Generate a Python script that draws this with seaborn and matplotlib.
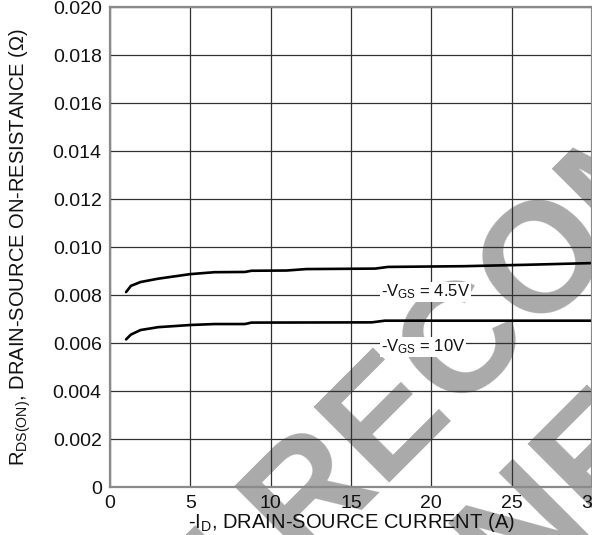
import matplotlib
matplotlib.use("Agg")
import matplotlib.pyplot as plt
import seaborn as sns
import pandas as pd

# ---- data ----
id_45 = [1.0, 1.3, 1.9, 3.0, 5.0, 6.5, 8.4, 8.8, 11.0, 12.2, 16.5, 17.3, 22.0, 26.0, 30.0]
r_45 = [0.00812, 0.00838, 0.00854, 0.00868, 0.00887, 0.00895, 0.00896, 0.00901,
        0.00902, 0.00908, 0.00910, 0.00917, 0.00920, 0.00926, 0.00933]
id_10 = [1.0, 1.3, 1.9, 3.0, 5.0, 6.5, 8.4, 8.8, 16.3, 17.1, 30.0]
r_10 = [0.00615, 0.00635, 0.00654, 0.00666, 0.00675, 0.00679, 0.00679, 0.00685,
        0.00686, 0.00693, 0.00693]
series_names = ["-VGS = 4.5V", "-VGS = 10V"]
x_ticks = [0, 5, 10, 15, 20, 25, 30]
y_ticks = [0, 0.002, 0.004, 0.006, 0.008, 0.010, 0.012, 0.014, 0.016, 0.018, 0.020]
y_tick_labels = ["0", "0.002", "0.004", "0.006", "0.008", "0.010",
                 "0.012", "0.014", "0.016", "0.018", "0.020"]

df = pd.concat([
    pd.DataFrame({"I": id_45, "R": r_45, "VGS": series_names[0]}),
    pd.DataFrame({"I": id_10, "R": r_10, "VGS": series_names[1]}),
])

sns.set_theme(style="white")
plt.rcParams["font.family"] = ["Liberation Sans", "DejaVu Sans"]
plt.rcParams["mathtext.fontset"] = "custom"
plt.rcParams["mathtext.rm"] = "Liberation Sans"
plt.rcParams["mathtext.it"] = "Liberation Sans"
plt.rcParams["mathtext.default"] = "regular"

fig = plt.figure(figsize=(5.92, 5.35), dpi=100)
ax = fig.add_axes([110 / 592, 48 / 535, 482 / 592, 480 / 535])

# watermark (below everything)
wm_color = "#aaaaaa"
wm_kw = dict(transform=fig.transFigure, rotation=45, rotation_mode="anchor",
             ha="center", va="baseline", fontsize=112, fontweight="bold",
             color=wm_color, zorder=0.1, clip_on=False)
ax.text(615 / 592, 1 - 258 / 535, "NOT RECOMMENDED", **wm_kw)
ax.text(740 / 592, 1 - 383 / 535, "FOR NEW DESIGN", **wm_kw)

sns.lineplot(data=df, x="I", y="R", hue="VGS", palette=["black", "black"],
             estimator=None, sort=False, linewidth=1.9, legend=False, ax=ax)

ax.set_xlim(0, 30)
ax.set_ylim(0, 0.020)
ax.set_xticks(x_ticks)
ax.set_yticks(y_ticks, labels=y_tick_labels)
ax.grid(True, color="#303030", linewidth=0.9)
for s in ax.spines.values():
    s.set_color("#8a8a8a")
    s.set_linewidth(1.6)
ax.tick_params(length=0, pad=6, labelsize=14, labelcolor="#111111")

ax.set_xlabel("-I$_{D}$, DRAIN-SOURCE CURRENT (A)", fontsize=14.5, color="#111111", labelpad=-1)
ax.set_ylabel("R$_{DS(ON)}$, DRAIN-SOURCE ON-RESISTANCE (Ω)", fontsize=14.5, color="#111111")
ax.yaxis.set_label_coords(-0.16, 0.5)

bbox = dict(facecolor="white", edgecolor="none", pad=0.5)
ax.text(16.85, 0.00793, "-V$_{GS}$ = 4.5V", fontsize=12, color="#111111",
        ha="left", va="baseline", bbox=bbox, zorder=3)
ax.text(16.85, 0.00564, "-V$_{GS}$ = 10V", fontsize=12, color="#111111",
        ha="left", va="baseline", bbox=bbox, zorder=3)

fig.savefig("out.png", dpi=100)
